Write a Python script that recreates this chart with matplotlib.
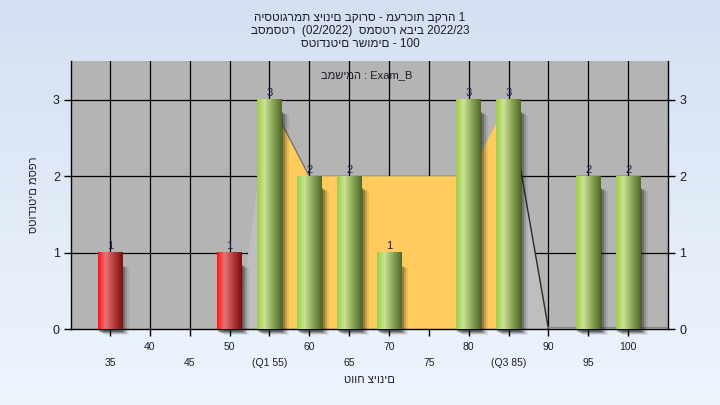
import numpy as np
import matplotlib
matplotlib.use("Agg")
import matplotlib.pyplot as plt
import matplotlib.transforms as mtransforms
from matplotlib.colors import LinearSegmentedColormap
from matplotlib.patches import Rectangle

plt.rcParams['font.family'] = ['Liberation Sans', 'DejaVu Sans']

# histogram data
grades = [35, 50, 55, 60, 65, 70, 80, 85, 95, 100]
counts = [1, 1, 3, 2, 2, 1, 3, 3, 2, 2]
pass_grade = 55
q1, q3 = 55, 85

# frequency area behind the bars
area_x = [51, 55, 60, 65, 70, 75, 80, 85, 90]
area_y = [0, 3, 2, 2, 2, 2, 2, 3, 0]

major_ticks = [40, 50, 60, 70, 80, 90, 100]
minor_ticks = [35, 45, 55, 65, 75, 85, 95]
minor_labels = ['35', '45', '(Q1 55)', '65', '75', '(Q3 85)', '95']

title_lines = ['היסטוגרמת ציונים בקורס - מערכות בקרה 1',
               'בסמסטר  (02/2022)  סמסטר אביב 2022/23',
               'סטודנטים רשומים - 100']
task_text = 'במשימה : Exam_B'
xlabel = 'טווח ציונים'
ylabel = 'סטודנטים מספר'

txt_col = '#1c1c28'

fig = plt.figure(figsize=(7.2, 4.05), dpi=100)

# light blue gradient background
bg = fig.add_axes([0, 0, 1, 1], zorder=-10)
grad = np.linspace(0, 1, 256).reshape(-1, 1)
bg_cmap = LinearSegmentedColormap.from_list('bg', ['#d4e0f2', '#eef5fd'])
bg.imshow(grad, aspect='auto', cmap=bg_cmap, extent=(0, 1, 0, 1))
bg.set_axis_off()

ax = fig.add_axes([71 / 720, 76 / 405, 597 / 720, 268 / 405])
ax.set_facecolor('#b4b4b4')

# grid
for v in range(35, 105, 5):
    ax.axvline(v, color='black', lw=0.9, zorder=0.5)
for v in [1, 2, 3]:
    ax.axhline(v, color='black', lw=0.9, zorder=0.5)

# frequency area and the Q1-Q3 band
ax.fill(area_x, area_y, color='#bebebe', lw=0, zorder=1)
band_x = [x for x in area_x if q1 <= x <= q3]
band_y = [y for x, y in zip(area_x, area_y) if q1 <= x <= q3]
ax.fill(band_x + [q3, q1], band_y + [0, 0], color='#fecb5c', lw=0, zorder=1.2)
ax.plot(area_x[1:3], area_y[1:3], color='#707070', lw=0.9, zorder=1.3)
ax.plot(area_x[-2:], area_y[-2:], color='#2a2a2a', lw=1.0, zorder=1.3)
ax.plot([90, 105], [0.02, 0.02], color='#8a8a8a', lw=0.8, zorder=1.3)

# cylinder-like bars
green = LinearSegmentedColormap.from_list(
    'g', [(0, '#9ccb48'), (0.3, '#cbe394'), (0.7, '#7f9c4e'), (1, '#4e6a26')])
red = LinearSegmentedColormap.from_list(
    'r', [(0, '#ff1414'), (0.3, '#ea7474'), (0.7, '#b03434'), (1, '#781010')])
row = np.linspace(0, 1, 64).reshape(1, -1)
width = 3.1
for g, c in zip(grades, counts):
    x0 = g - width / 2
    # soft shadow to the lower right
    for dx, dy, a in [(1, -3, 0.35), (3, -4, 0.25), (5, -5, 0.18), (7, -6, 0.08)]:
        tr = mtransforms.offset_copy(ax.transData, fig=fig, x=dx, y=dy, units='dots')
        ax.add_patch(Rectangle((x0, 0), width, c - 0.12, transform=tr,
                               color='#1a1a1a', alpha=a, lw=0, zorder=2, clip_on=False))
    cmap = green if g >= pass_grade else red
    ax.imshow(row, cmap=cmap, aspect='auto', extent=(x0, x0 + width, 0, c),
              zorder=3, interpolation='bilinear')
    ax.text(g, c + 0.02, str(c), ha='center', va='bottom', fontsize=8, color='#1a1a50', zorder=4)

ax.set_xlim(30.1, 105)
ax.set_ylim(0, 3.51)

# axes and ticks
for s in ['left', 'right', 'bottom']:
    ax.spines[s].set_color('black')
    ax.spines[s].set_linewidth(1.0)
ax.spines['top'].set_visible(False)
ax.set_yticks([0, 1, 2, 3])
ax.tick_params(axis='y', direction='out', length=5, width=1, pad=3,
               labelsize=9, labelcolor=txt_col, right=True, labelright=True)
ax.set_xticks(major_ticks)
ax.set_xticks(minor_ticks, minor=True)
ax.set_xticklabels([str(v) for v in major_ticks])
ax.set_xticklabels(minor_labels, minor=True)
ax.tick_params(axis='x', which='major', direction='out', length=5, width=1, pad=4,
               labelsize=7.5, labelcolor=txt_col)
ax.tick_params(axis='x', which='minor', direction='out', length=5, width=1, pad=16,
               labelsize=7.5, labelcolor=txt_col)

ax.set_xlabel(xlabel, fontsize=8, color=txt_col, labelpad=5)
ax.set_ylabel(ylabel, fontsize=8, color=txt_col, labelpad=10)

ax.text(0.496, 0.948, task_text, transform=ax.transAxes, ha='center', va='center',
        fontsize=8, color=txt_col)

for i, line in enumerate(title_lines):
    fig.text(0.5, 1 - (18 + 13 * i) / 405, line, ha='center', va='center',
             fontsize=8.5, color=txt_col)

fig.savefig('out.png', dpi=100)
